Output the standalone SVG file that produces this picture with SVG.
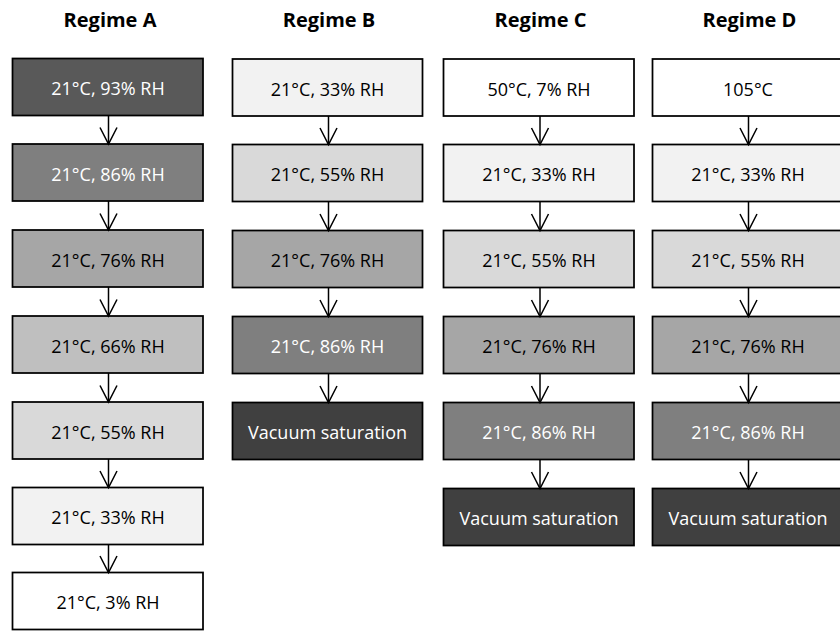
<svg xmlns="http://www.w3.org/2000/svg" width="840" height="631" viewBox="0 0 840 631">
  <defs>
    <style>
      .box { stroke: #000; stroke-width: 1.75; }
      .t { font-family: "Open Sans", "Liberation Sans", sans-serif; font-size: 18px; text-anchor: middle; fill: #000; }
      .w { fill: #fff; }
      .title { font-family: "Open Sans", "Liberation Sans", sans-serif; font-size: 20px; font-weight: bold; text-anchor: middle; fill: #000; }
      .conn line { stroke: #000; stroke-width: 1.5; }
      .conn path { stroke: #000; stroke-width: 1.5; fill: none; }
    </style>
  </defs>
  <rect width="840" height="631" fill="#fff"/>

  <g id="titles">
    <text class="title" x="110" y="27">Regime A</text>
    <text class="title" x="329" y="27">Regime B</text>
    <text class="title" x="540.5" y="27">Regime C</text>
    <text class="title" x="749.5" y="27">Regime D</text>
  </g>

  <!-- Regime A -->
  <g id="A1"><rect class="box" x="12.5" y="58.5" width="190.5" height="57" fill="#595959"/><text class="t w" x="108" y="95">21°C, 93% RH</text></g>
  <g id="A2"><rect class="box" x="12.5" y="144" width="190.5" height="57" fill="#7f7f7f"/><text class="t w" x="108" y="180.5">21°C, 86% RH</text></g>
  <g id="A3"><rect class="box" x="12.5" y="230" width="190.5" height="57" fill="#a6a6a6"/><text class="t" x="108" y="266.5">21°C, 76% RH</text></g>
  <g id="A4"><rect class="box" x="12.5" y="316" width="190.5" height="57" fill="#bfbfbf"/><text class="t" x="108" y="352.5">21°C, 66% RH</text></g>
  <g id="A5"><rect class="box" x="12.5" y="402" width="190.5" height="57" fill="#d9d9d9"/><text class="t" x="108" y="438.5">21°C, 55% RH</text></g>
  <g id="A6"><rect class="box" x="12.5" y="487.5" width="190.5" height="57" fill="#f2f2f2"/><text class="t" x="108" y="524">21°C, 33% RH</text></g>
  <g id="A7"><rect class="box" x="12.5" y="572.5" width="190.5" height="57" fill="#ffffff"/><text class="t" x="108" y="609">21°C, 3% RH</text></g>

  <!-- Regime B -->
  <g id="B1"><rect class="box" x="232.5" y="59" width="190" height="57" fill="#f2f2f2"/><text class="t" x="327.5" y="95.5">21°C, 33% RH</text></g>
  <g id="B2"><rect class="box" x="232.5" y="144.5" width="190" height="57" fill="#d9d9d9"/><text class="t" x="327.5" y="181">21°C, 55% RH</text></g>
  <g id="B3"><rect class="box" x="232.5" y="230.5" width="190" height="57" fill="#a6a6a6"/><text class="t" x="327.5" y="267">21°C, 76% RH</text></g>
  <g id="B4"><rect class="box" x="232.5" y="316.5" width="190" height="57" fill="#7f7f7f"/><text class="t w" x="327.5" y="353">21°C, 86% RH</text></g>
  <g id="B5"><rect class="box" x="232.5" y="402.5" width="190" height="57" fill="#404040"/><text class="t w" x="327.5" y="439">Vacuum saturation</text></g>

  <!-- Regime C -->
  <g id="C1"><rect class="box" x="443.5" y="59" width="190.5" height="57" fill="#ffffff"/><text class="t" x="539" y="95.5">50°C, 7% RH</text></g>
  <g id="C2"><rect class="box" x="443.5" y="144.5" width="190.5" height="57" fill="#f2f2f2"/><text class="t" x="539" y="181">21°C, 33% RH</text></g>
  <g id="C3"><rect class="box" x="443.5" y="230.5" width="190.5" height="57" fill="#d9d9d9"/><text class="t" x="539" y="267">21°C, 55% RH</text></g>
  <g id="C4"><rect class="box" x="443.5" y="316.5" width="190.5" height="57" fill="#a6a6a6"/><text class="t" x="539" y="353">21°C, 76% RH</text></g>
  <g id="C5"><rect class="box" x="443.5" y="402.5" width="190.5" height="57" fill="#7f7f7f"/><text class="t w" x="539" y="439">21°C, 86% RH</text></g>
  <g id="C6"><rect class="box" x="443.5" y="488.5" width="190.5" height="57" fill="#404040"/><text class="t w" x="539" y="525">Vacuum saturation</text></g>

  <!-- Regime D -->
  <g id="D1"><rect class="box" x="652.5" y="59" width="191" height="57" fill="#ffffff"/><text class="t" x="748" y="95.5">105°C</text></g>
  <g id="D2"><rect class="box" x="652.5" y="144.5" width="191" height="57" fill="#f2f2f2"/><text class="t" x="748" y="181">21°C, 33% RH</text></g>
  <g id="D3"><rect class="box" x="652.5" y="230.5" width="191" height="57" fill="#d9d9d9"/><text class="t" x="748" y="267">21°C, 55% RH</text></g>
  <g id="D4"><rect class="box" x="652.5" y="316.5" width="191" height="57" fill="#a6a6a6"/><text class="t" x="748" y="353">21°C, 76% RH</text></g>
  <g id="D5"><rect class="box" x="652.5" y="402.5" width="191" height="57" fill="#7f7f7f"/><text class="t w" x="748" y="439">21°C, 86% RH</text></g>
  <g id="D6"><rect class="box" x="652.5" y="488.5" width="191" height="57" fill="#404040"/><text class="t w" x="748" y="525">Vacuum saturation</text></g>

  <g id="connectors" class="conn">
    <!-- A -->
    <line x1="108.5" y1="115.5" x2="108.5" y2="144"/><path d="M100,127.5 L108.5,144 L117,127.5"/>
    <line x1="108.5" y1="201" x2="108.5" y2="230"/><path d="M100,213.5 L108.5,230 L117,213.5"/>
    <line x1="108.5" y1="287" x2="108.5" y2="316"/><path d="M100,299.5 L108.5,316 L117,299.5"/>
    <line x1="108.5" y1="373" x2="108.5" y2="402"/><path d="M100,385.5 L108.5,402 L117,385.5"/>
    <line x1="108.5" y1="459" x2="108.5" y2="487.5"/><path d="M100,471 L108.5,487.5 L117,471"/>
    <line x1="108.5" y1="544.5" x2="108.5" y2="572.5"/><path d="M100,556 L108.5,572.5 L117,556"/>
    <!-- B -->
    <line x1="328.5" y1="116" x2="328.5" y2="144.5"/><path d="M320,128 L328.5,144.5 L337,128"/>
    <line x1="328.5" y1="201.5" x2="328.5" y2="230.5"/><path d="M320,214 L328.5,230.5 L337,214"/>
    <line x1="328.5" y1="287.5" x2="328.5" y2="316.5"/><path d="M320,300 L328.5,316.5 L337,300"/>
    <line x1="328.5" y1="373.5" x2="328.5" y2="402.5"/><path d="M320,386 L328.5,402.5 L337,386"/>
    <!-- C -->
    <line x1="540" y1="116" x2="540" y2="144.5"/><path d="M531.5,128 L540,144.5 L548.5,128"/>
    <line x1="540" y1="201.5" x2="540" y2="230.5"/><path d="M531.5,214 L540,230.5 L548.5,214"/>
    <line x1="540" y1="287.5" x2="540" y2="316.5"/><path d="M531.5,300 L540,316.5 L548.5,300"/>
    <line x1="540" y1="373.5" x2="540" y2="402.5"/><path d="M531.5,386 L540,402.5 L548.5,386"/>
    <line x1="540" y1="459.5" x2="540" y2="488.5"/><path d="M531.5,472 L540,488.5 L548.5,472"/>
    <!-- D -->
    <line x1="748.5" y1="116" x2="748.5" y2="144.5"/><path d="M740,128 L748.5,144.5 L757,128"/>
    <line x1="748.5" y1="201.5" x2="748.5" y2="230.5"/><path d="M740,214 L748.5,230.5 L757,214"/>
    <line x1="748.5" y1="287.5" x2="748.5" y2="316.5"/><path d="M740,300 L748.5,316.5 L757,300"/>
    <line x1="748.5" y1="373.5" x2="748.5" y2="402.5"/><path d="M740,386 L748.5,402.5 L757,386"/>
    <line x1="748.5" y1="459.5" x2="748.5" y2="488.5"/><path d="M740,472 L748.5,488.5 L757,472"/>
  </g>
</svg>
